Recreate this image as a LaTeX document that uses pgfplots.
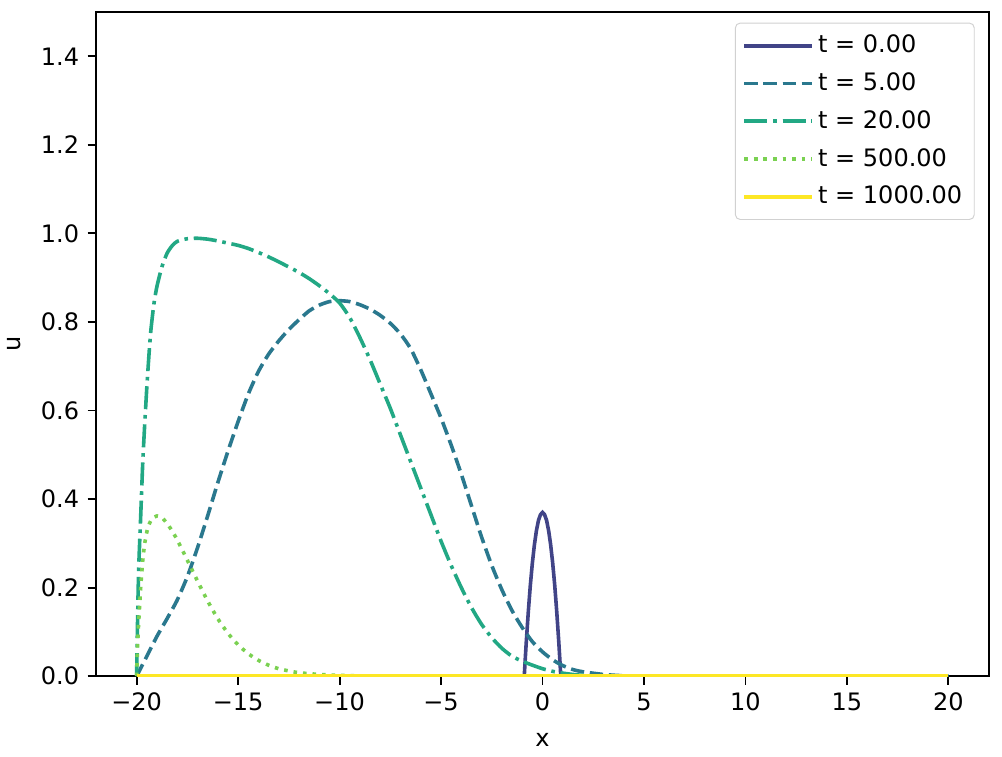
\documentclass[border=0pt]{standalone}
\usepackage{fontspec}
\setmainfont{DejaVu Sans}
\usepackage{pgfplots}
\pgfplotsset{compat=1.18}
\definecolor{c0}{HTML}{414487}
\definecolor{c1}{HTML}{2A788E}
\definecolor{c2}{HTML}{22A884}
\definecolor{c3}{HTML}{7AD151}
\definecolor{c4}{HTML}{FDE725}
\begin{document}
\begin{tikzpicture}
\begin{axis}[
  scale only axis, width=372pt, height=276.7pt,
  xmin=-22, xmax=22, ymin=0, ymax=1.5,
  xtick={-20,-15,...,20},
  xticklabels={−20,−15,−10,−5,0,5,10,15,20},
  ytick={0,0.2,...,1.4},
  yticklabels={0.0,0.2,0.4,0.6,0.8,1.0,1.2,1.4},
  tick align=outside, xtick pos=left, ytick pos=left,
  major tick length=3.5pt,
  tick style={black, line width=0.8pt},
  axis line style={line width=0.8pt},
  tick label style={font=\fontsize{10}{12}\selectfont},
  xlabel={x}, ylabel={u},
  label style={font=\fontsize{10}{12}\selectfont},
  xlabel style={at={(axis description cs:0.5,-0.0964)}, anchor=center},
  ylabel style={at={(axis description cs:-0.0919,0.5)}, anchor=center},
  legend style={at={(0.984,0.984)}, anchor=north east, draw=black!18, rounded corners=2pt,
    font=\fontsize{10}{12}\selectfont, row sep=2.8pt, inner sep=3pt, fill=white, fill opacity=0.8, text opacity=1},
  legend cell align=left,
  legend image code/.code={\draw[#1] (0pt,0pt) -- (22.5pt,0pt); \path (0pt,0pt) -- (28pt,0pt);},
  every axis plot/.append style={line width=1.5pt},
]
\addplot[c0] coordinates {
(-20,0) (-0.9,0) (-0.85,0.04) (-0.8,0.078) (-0.7,0.146) (-0.6,0.206) (-0.5,0.256) (-0.4,0.297)
(-0.3,0.329) (-0.2,0.352) (-0.1,0.365) (0,0.37) (0.1,0.365) (0.2,0.352) (0.3,0.329) (0.4,0.297)
(0.5,0.256) (0.6,0.206) (0.7,0.146) (0.8,0.078) (0.85,0.04) (0.9,0) (20,0)};
\addlegendentry{t = 0.00}
\addplot[c1, smooth, tension=0.4, dash pattern=on 5.55pt off 2.4pt] coordinates {
(-20,0) (-19.5,0.045) (-19,0.09) (-18.5,0.13) (-18,0.172) (-17.5,0.225) (-17,0.29) (-16.5,0.362)
(-16,0.437) (-15.5,0.508) (-15,0.575) (-14.5,0.637) (-14,0.688) (-13.5,0.727) (-13,0.757)
(-12.5,0.783) (-12,0.805) (-11.5,0.825) (-11,0.838) (-10.5,0.846) (-10,0.848) (-9.5,0.846)
(-9,0.839) (-8.5,0.829) (-8,0.815) (-7.5,0.797) (-7,0.773) (-6.5,0.74) (-6,0.692) (-5.5,0.638)
(-5,0.583) (-4.5,0.522) (-4,0.456) (-3.5,0.385) (-3,0.314) (-2.5,0.25) (-2,0.195) (-1.5,0.148)
(-1,0.11) (-0.5,0.078) (0,0.055) (0.5,0.037) (1,0.024) (1.5,0.015) (2,0.01) (3,0.004) (4,0.001)
(5,0) (20,0)};
\addlegendentry{t = 5.00}
\addplot[c2, smooth, tension=0.4, dash pattern=on 9.6pt off 2.4pt on 1.5pt off 2.4pt] coordinates {
(-20,0) (-19.97,0.081) (-19.93,0.18) (-19.89,0.254) (-19.8,0.36) (-19.7,0.48) (-19.6,0.57)
(-19.5,0.65) (-19.4,0.72) (-19.3,0.78) (-19.15,0.84) (-19.0,0.88) (-18.75,0.925) (-18.5,0.955)
(-18.25,0.972) (-18.0,0.982) (-17.5,0.988) (-17.0,0.989) (-16.5,0.987) (-16.0,0.983) (-15.5,0.978)
(-15.0,0.973) (-14.5,0.966) (-14.0,0.957) (-13.5,0.947) (-13.0,0.936) (-12.5,0.924) (-12.0,0.912)
(-11.5,0.898) (-11.0,0.882) (-10.5,0.864) (-10.0,0.843) (-9.5,0.81) (-9.0,0.765) (-8.5,0.715)
(-8.0,0.66) (-7.5,0.605) (-7.0,0.545) (-6.5,0.485) (-6.0,0.425) (-5.5,0.365) (-5.0,0.305)
(-4.5,0.25) (-4.0,0.2) (-3.5,0.155) (-3.0,0.117) (-2.5,0.087) (-2.0,0.063) (-1.5,0.045)
(-1.0,0.034) (-0.5,0.025) (0,0.017) (0.5,0.011) (1,0.007) (1.5,0.004) (2,0.002) (3,0) (20,0)};
\addlegendentry{t = 20.00}
\addplot[c3, smooth, tension=0.4, dash pattern=on 1.5pt off 2.475pt] coordinates {
(-20,0) (-19.95,0.07) (-19.9,0.12) (-19.8,0.2) (-19.7,0.26) (-19.6,0.3) (-19.45,0.335)
(-19.25,0.355) (-19.0,0.362) (-18.75,0.358) (-18.5,0.345) (-18.25,0.328) (-18.0,0.308)
(-17.5,0.262) (-17.0,0.215) (-16.5,0.17) (-16.0,0.13) (-15.5,0.097) (-15.0,0.071) (-14.5,0.051)
(-14.0,0.036) (-13.5,0.025) (-13.0,0.017) (-12.5,0.012) (-12.0,0.008) (-11,0.004) (-10,0.002)
(-9,0.001) (-8,0) (20,0)};
\addlegendentry{t = 500.00}
\addplot[c4] coordinates {(-20,0.001) (20,0.001)};
\addlegendentry{t = 1000.00}
\end{axis}
\pgfresetboundingbox
\path[use as bounding box] ([shift={(-40pt,-33.3pt)}]current axis.south west) rectangle ([shift={(5.4pt,5pt)}]current axis.north east);
\end{tikzpicture}
\end{document}
